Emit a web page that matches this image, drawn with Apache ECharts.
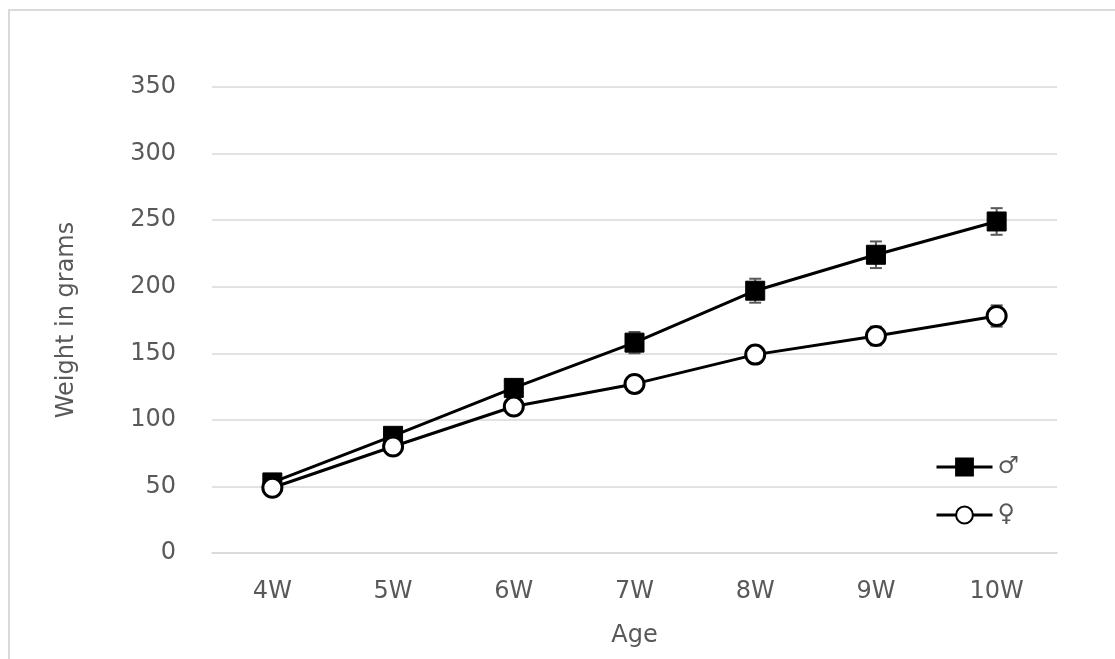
<!DOCTYPE html>
<html><head><meta charset="utf-8">
<script src="https://cdn.jsdelivr.net/npm/echarts@6/dist/echarts.min.js"></script>
<style>html,body{margin:0;padding:0;background:#fff}#c{width:1115px;height:659px}</style>
</head><body><div id="c"></div>
<script>
const categories = ['4W','5W','6W','7W','8W','9W','10W'];
const maleMean = [53, 88, 124, 158, 197, 224, 249];
const maleErr = [4, 4, 6, 8, 9, 10, 10];
const femaleMean = [49, 80, 110, 127, 149, 163, 178];
const femaleErr = [6, 4, 5, 4, 4, 7, 8];
const yTicks = {min: 0, max: 350, interval: 50};

const font = 'DejaVu Sans';
const grey = '#595959';
const fs = 24;

function errData(mean, err) {
  return mean.map((m, i) => [i, m - err[i], m + err[i]]);
}
function errRender(params, api) {
  const lo = api.coord([api.value(0), api.value(1)]);
  const hi = api.coord([api.value(0), api.value(2)]);
  const w = 6;
  const st = {stroke: grey, lineWidth: 2};
  return {type: 'group', children: [
    {type: 'line', shape: {x1: lo[0], y1: lo[1], x2: hi[0], y2: hi[1]}, style: st},
    {type: 'line', shape: {x1: lo[0]-w, y1: lo[1], x2: lo[0]+w, y2: lo[1]}, style: st},
    {type: 'line', shape: {x1: hi[0]-w, y1: hi[1], x2: hi[0]+w, y2: hi[1]}, style: st}
  ]};
}

const chart = echarts.init(document.getElementById('c'), null, {renderer: 'canvas'});
chart.setOption({
  animation: false,
  backgroundColor: '#fff',
  graphic: [{type: 'rect', shape: {x: 9, y: 10, width: 1200, height: 800},
    style: {fill: 'none', stroke: '#d9d9d9', lineWidth: 2}, silent: true, z: -10}],
  grid: {left: 212, right: 58, top: 87, bottom: 106, outerBoundsMode: 'none', containLabel: false},
  xAxis: {
    type: 'category', data: categories, boundaryGap: true,
    name: 'Age', nameLocation: 'middle', nameGap: 71,
    nameTextStyle: {fontFamily: font, fontSize: fs, color: grey},
    axisLine: {show: true, lineStyle: {color: '#d9d9d9', width: 1.5}},
    axisTick: {show: false},
    axisLabel: {fontFamily: font, fontSize: fs, color: grey, margin: 27}
  },
  yAxis: {
    type: 'value', min: yTicks.min, max: yTicks.max, interval: yTicks.interval,
    name: 'Weight in grams', nameLocation: 'middle', nameGap: 133, nameRotate: 90,
    nameTextStyle: {fontFamily: font, fontSize: fs, color: grey},
    axisLine: {show: false}, axisTick: {show: false},
    splitLine: {lineStyle: {color: '#d9d9d9', width: 1.5}},
    axisLabel: {fontFamily: font, fontSize: fs, color: grey, margin: 36}
  },
  legend: {
    orient: 'vertical', left: 930, top: 450, itemGap: 24,
    itemWidth: 56, itemHeight: 21,
    lineStyle: {width: 3},
    textStyle: {fontFamily: font, fontSize: fs, color: grey},
    data: ['♂', '♀']
  },
  series: [
    {type: 'custom', renderItem: errRender, data: errData(maleMean, maleErr), z: 1, silent: true},
    {type: 'custom', renderItem: errRender, data: errData(femaleMean, femaleErr), z: 1, silent: true},
    {name: '♂', type: 'line', data: maleMean, z: 3,
      symbol: 'rect', symbolSize: 19,
      lineStyle: {color: '#000', width: 3},
      itemStyle: {color: '#000', borderColor: '#000', borderWidth: 1}},
    {name: '♀', type: 'line', data: femaleMean, z: 4,
      symbol: 'circle', symbolSize: 19,
      lineStyle: {color: '#000', width: 3},
      itemStyle: {color: '#fff', borderColor: '#000', borderWidth: 3}}
  ]
});
</script></body></html>
